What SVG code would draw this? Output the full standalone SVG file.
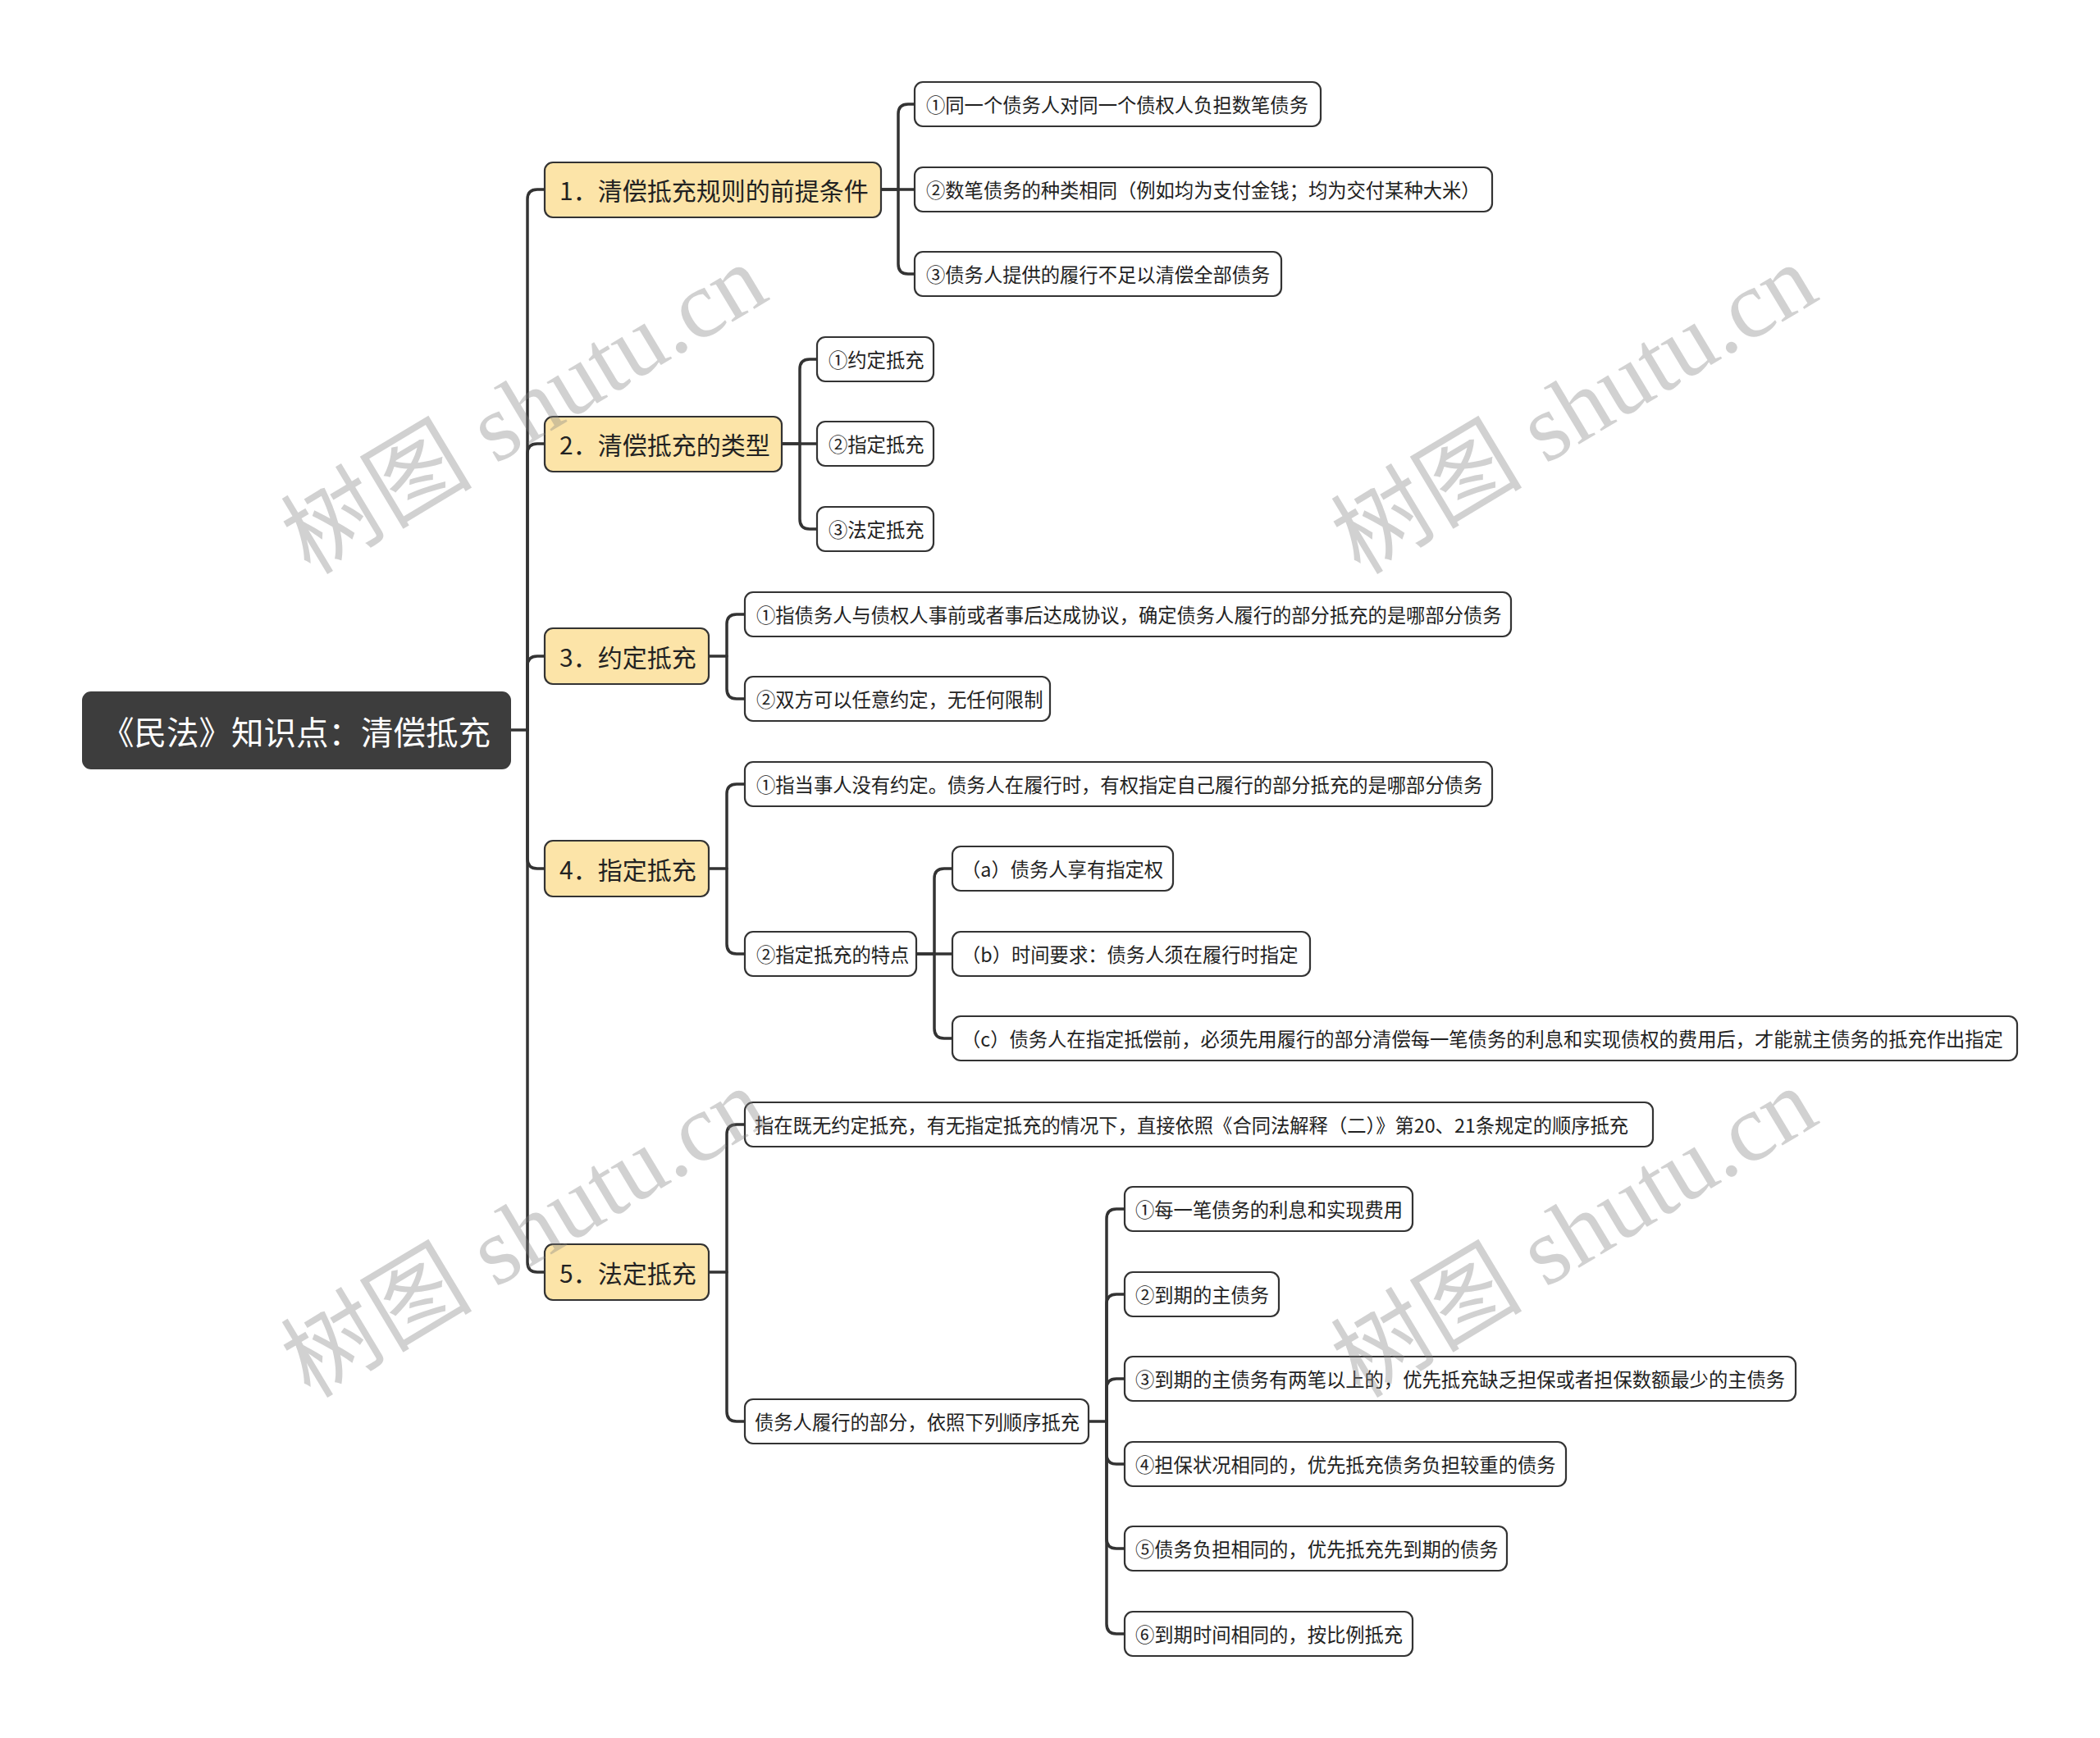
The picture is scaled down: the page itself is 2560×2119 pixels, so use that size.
<svg xmlns="http://www.w3.org/2000/svg" width="2560" height="2119" viewBox="0 0 2560 2119">
<style>
.bg{fill:#ffffff}
.conn path{fill:none;stroke:#333333;stroke-width:3.5;stroke-linecap:round;stroke-linejoin:round}
.root rect{fill:#3d3d3d;stroke:#3d3d3d;stroke-width:2}
.root text{fill:#ffffff;font-family:"Noto Sans CJK SC","Noto Sans",sans-serif;font-size:39.5px}
.l1 rect{fill:#fce4a8;stroke:#333333;stroke-width:2.2}
.l1 text{fill:#222222;font-family:"Noto Sans CJK SC","Noto Sans",sans-serif;font-size:30px}
.l2 rect{fill:#ffffff;stroke:#333333;stroke-width:2.2}
.l2 text{fill:#222222;font-family:"Noto Sans CJK SC","Noto Sans",sans-serif;font-size:23.3px}
.wm{fill:#808080;fill-opacity:0.36;font-family:"Liberation Serif","Noto Sans CJK SC",serif;font-size:117px}
</style>
<rect class="bg" x="0" y="0" width="2560" height="2119"/>

<g class="conn" id="connectors">
<path d="M622,890 H643 V243 Q643,231 655,231 H664"/>
<path d="M643,890 V553 Q643,541 655,541 H664"/>
<path d="M643,890 V812 Q643,800 655,800 H664"/>
<path d="M643,890 V1047 Q643,1059 655,1059 H664"/>
<path d="M643,890 V1539 Q643,1551 655,1551 H664"/>
<path d="M1074,231 H1095 V139 Q1095,127 1107,127 H1115"/>
<path d="M1074,231 H1115"/>
<path d="M1095,231 V322 Q1095,334 1107,334 H1115"/>
<path d="M953,541 H975 V450 Q975,438 987,438 H996"/>
<path d="M953,541 H996"/>
<path d="M975,541 V633 Q975,645 987,645 H996"/>
<path d="M864,800 H886 V761 Q886,749 898,749 H908"/>
<path d="M886,800 V840 Q886,852 898,852 H908"/>
<path d="M864,1059 H886 V968 Q886,956 898,956 H908"/>
<path d="M886,1059 V1151 Q886,1163 898,1163 H908"/>
<path d="M1117,1163 H1139 V1071 Q1139,1059 1151,1059 H1161"/>
<path d="M1117,1163 H1161"/>
<path d="M1139,1163 V1254 Q1139,1266 1151,1266 H1161"/>
<path d="M864,1551 H886 V1383 Q886,1371 898,1371 H908"/>
<path d="M886,1551 V1721 Q886,1733 898,1733 H908"/>
<path d="M1327,1733 H1349 V1486 Q1349,1474 1361,1474 H1371"/>
<path d="M1349,1733 V1590 Q1349,1578 1361,1578 H1371"/>
<path d="M1349,1733 V1693 Q1349,1681 1361,1681 H1371"/>
<path d="M1349,1733 V1773 Q1349,1785 1361,1785 H1371"/>
<path d="M1349,1733 V1876 Q1349,1888 1361,1888 H1371"/>
<path d="M1349,1733 V1980 Q1349,1992 1361,1992 H1371"/>
</g>

<g id="root" class="root"><rect x="101" y="844" width="521" height="93" rx="10"/><text x="124" y="890" dominant-baseline="central">《民法》知识点：清偿抵充</text></g>

<g id="n1" class="l1"><rect x="664" y="198" width="410" height="67" rx="10"/><text x="682" y="231" dominant-baseline="central">1．清偿抵充规则的前提条件</text></g>
<g id="n2" class="l1"><rect x="664" y="508" width="289" height="67" rx="10"/><text x="682" y="541" dominant-baseline="central">2．清偿抵充的类型</text></g>
<g id="n3" class="l1"><rect x="664" y="766" width="200" height="68" rx="10"/><text x="682" y="800" dominant-baseline="central">3．约定抵充</text></g>
<g id="n4" class="l1"><rect x="664" y="1025" width="200" height="68" rx="10"/><text x="682" y="1059" dominant-baseline="central">4．指定抵充</text></g>
<g id="n5" class="l1"><rect x="664" y="1517" width="200" height="68" rx="10"/><text x="682" y="1551" dominant-baseline="central">5．法定抵充</text></g>

<g id="n1a" class="l2"><rect x="1115" y="100" width="495" height="54" rx="10"/><text x="1129" y="127" dominant-baseline="central">①同一个债务人对同一个债权人负担数笔债务</text></g>
<g id="n1b" class="l2"><rect x="1115" y="204" width="704" height="54" rx="10"/><text x="1129" y="231" dominant-baseline="central">②数笔债务的种类相同（例如均为支付金钱；均为交付某种大米）</text></g>
<g id="n1c" class="l2"><rect x="1115" y="307" width="447" height="54" rx="10"/><text x="1129" y="334" dominant-baseline="central">③债务人提供的履行不足以清偿全部债务</text></g>

<g id="n2a" class="l2"><rect x="996" y="411" width="142" height="54" rx="10"/><text x="1010" y="438" dominant-baseline="central">①约定抵充</text></g>
<g id="n2b" class="l2"><rect x="996" y="514" width="142" height="54" rx="10"/><text x="1010" y="541" dominant-baseline="central">②指定抵充</text></g>
<g id="n2c" class="l2"><rect x="996" y="618" width="142" height="54" rx="10"/><text x="1010" y="645" dominant-baseline="central">③法定抵充</text></g>

<g id="n3a" class="l2"><rect x="908" y="722" width="934" height="54" rx="10"/><text x="922" y="749" dominant-baseline="central">①指债务人与债权人事前或者事后达成协议，确定债务人履行的部分抵充的是哪部分债务</text></g>
<g id="n3b" class="l2"><rect x="908" y="825" width="372" height="54" rx="10"/><text x="922" y="852" dominant-baseline="central">②双方可以任意约定，无任何限制</text></g>

<g id="n4a" class="l2"><rect x="908" y="929" width="911" height="54" rx="10"/><text x="922" y="956" dominant-baseline="central">①指当事人没有约定。债务人在履行时，有权指定自己履行的部分抵充的是哪部分债务</text></g>
<g id="n4b" class="l2"><rect x="908" y="1136" width="209" height="54" rx="10"/><text x="922" y="1163" dominant-baseline="central">②指定抵充的特点</text></g>
<g id="n4b1" class="l2"><rect x="1161" y="1032" width="269" height="54" rx="10"/><text x="1172" y="1059" dominant-baseline="central">（a）债务人享有指定权</text></g>
<g id="n4b2" class="l2"><rect x="1161" y="1136" width="436" height="54" rx="10"/><text x="1172" y="1163" dominant-baseline="central">（b）时间要求：债务人须在履行时指定</text></g>
<g id="n4b3" class="l2"><rect x="1161" y="1239" width="1298" height="54" rx="10"/><text x="1172" y="1266" dominant-baseline="central">（c）债务人在指定抵偿前，必须先用履行的部分清偿每一笔债务的利息和实现债权的费用后，才能就主债务的抵充作出指定</text></g>

<g id="n5a" class="l2"><rect x="908" y="1344" width="1107" height="54" rx="10"/><text x="920" y="1371" dominant-baseline="central">指在既无约定抵充，有无指定抵充的情况下，直接依照《合同法解释（二）》第20、21条规定的顺序抵充</text></g>
<g id="n5b" class="l2"><rect x="908" y="1706" width="419" height="54" rx="10"/><text x="920" y="1733" dominant-baseline="central">债务人履行的部分，依照下列顺序抵充</text></g>
<g id="n5b1" class="l2"><rect x="1371" y="1447" width="351" height="54" rx="10"/><text x="1384" y="1474" dominant-baseline="central">①每一笔债务的利息和实现费用</text></g>
<g id="n5b2" class="l2"><rect x="1371" y="1551" width="188" height="54" rx="10"/><text x="1384" y="1578" dominant-baseline="central">②到期的主债务</text></g>
<g id="n5b3" class="l2"><rect x="1371" y="1654" width="818" height="54" rx="10"/><text x="1384" y="1681" dominant-baseline="central">③到期的主债务有两笔以上的，优先抵充缺乏担保或者担保数额最少的主债务</text></g>
<g id="n5b4" class="l2"><rect x="1371" y="1758" width="538" height="54" rx="10"/><text x="1384" y="1785" dominant-baseline="central">④担保状况相同的，优先抵充债务负担较重的债务</text></g>
<g id="n5b5" class="l2"><rect x="1371" y="1861" width="466" height="54" rx="10"/><text x="1384" y="1888" dominant-baseline="central">⑤债务负担相同的，优先抵充先到期的债务</text></g>
<g id="n5b6" class="l2"><rect x="1371" y="1965" width="351" height="54" rx="10"/><text x="1384" y="1992" dominant-baseline="central">⑥到期时间相同的，按比例抵充</text></g>

<g id="watermarks">
<text class="wm" transform="translate(378,702) rotate(-31)">树图 shutu.cn</text>
<text class="wm" transform="translate(1658,702) rotate(-31)">树图 shutu.cn</text>
<text class="wm" transform="translate(378,1706) rotate(-31)">树图 shutu.cn</text>
<text class="wm" transform="translate(1658,1706) rotate(-31)">树图 shutu.cn</text>
</g>
</svg>
